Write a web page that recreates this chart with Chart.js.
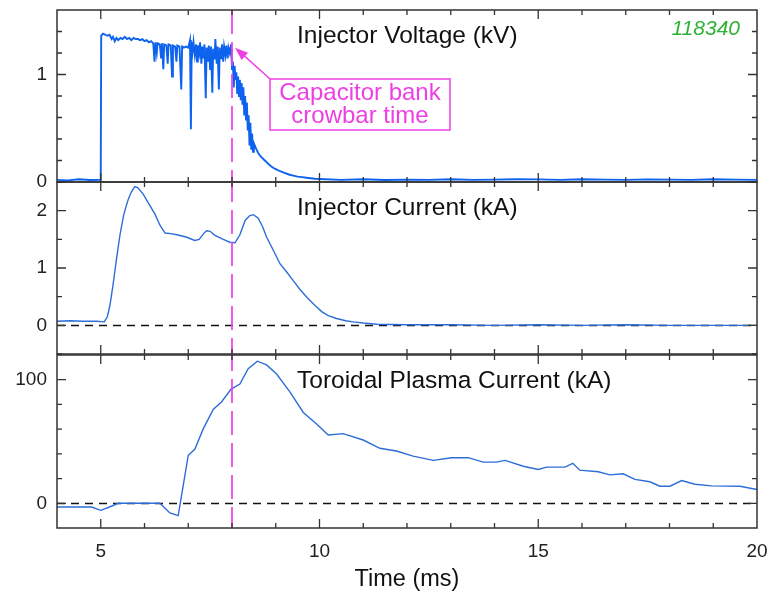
<!DOCTYPE html>
<html><head><meta charset="utf-8">
<script src="https://cdn.jsdelivr.net/npm/chart.js@4.4.0/dist/chart.umd.min.js"></script>
<style>
html,body{margin:0;padding:0;background:#fff;width:771px;height:596px;overflow:hidden}
canvas{position:absolute;left:0}
</style></head><body>
<canvas id="c1" width="771" height="190" style="top:0"></canvas>
<canvas id="c2" width="771" height="190" style="top:172px"></canvas>
<canvas id="c3" width="771" height="251" style="top:345px"></canvas>
<script>
// ---------- data (time in ms) ----------
const voltage = [ // [t, kV]
[4.0,0.02],[4.25,0.015],[4.5,0.025],[4.75,0.018],[4.98,0.02],[5.0,0.02],[5.01,1.36],[5.05,1.38],[5.10,1.37],[5.15,1.36],
[5.20,1.37],[5.25,1.33],[5.28,1.35],[5.32,1.31],[5.36,1.34],[5.40,1.32],[5.45,1.34],[5.50,1.33],[5.55,1.35],[5.60,1.33],
[5.65,1.34],[5.70,1.32],[5.75,1.34],[5.80,1.33],[5.85,1.33],[5.90,1.32],[5.95,1.33],[6.00,1.31],[6.05,1.32],[6.10,1.30],
[6.15,1.31],[6.20,1.29],[6.23,1.12],[6.25,1.30],[6.28,1.20],[6.30,1.29],[6.35,1.28],[6.38,1.15],[6.40,1.29],[6.43,1.05],
[6.45,1.28],[6.50,1.27],[6.53,1.10],[6.55,1.28],[6.60,1.27],[6.63,0.98],[6.65,1.27],[6.70,1.26],[6.73,1.12],[6.75,1.27],
[6.80,1.26],[6.84,0.86],[6.86,1.26],[6.90,1.25],[6.95,1.26],[7.00,1.25],[7.04,1.32],[7.06,0.49],[7.08,1.30],[7.10,1.22],
[7.12,1.30],[7.15,1.18],[7.18,1.28],[7.20,1.12],[7.22,1.27],[7.25,1.20],[7.27,1.30],[7.30,1.10],[7.32,1.26],[7.35,1.15],
[7.37,1.28],[7.40,0.78],[7.42,1.25],[7.45,1.12],[7.47,1.27],[7.50,1.05],[7.52,1.26],[7.55,0.83],[7.57,1.24],[7.60,1.14],
[7.62,1.33],[7.65,1.10],[7.67,1.26],[7.70,0.86],[7.72,1.25],[7.75,1.15],[7.77,1.28],[7.80,1.12],[7.82,1.26],[7.85,1.18],
[7.87,1.27],[7.90,1.15],[7.92,1.25],[7.95,1.20],[7.98,1.28],[8.00,1.05],[8.02,1.12],[8.04,0.88],[8.06,1.08],[8.08,0.95],
[8.10,1.02],[8.12,0.82],[8.14,0.98],[8.16,0.80],[8.18,0.95],[8.20,0.76],[8.22,0.92],[8.24,0.72],[8.26,0.88],[8.28,0.62],
[8.30,0.80],[8.32,0.58],[8.34,0.74],[8.36,0.48],[8.38,0.62],[8.40,0.34],[8.42,0.55],[8.44,0.30],[8.46,0.45],[8.48,0.28],
[8.50,0.36],[8.55,0.31],[8.60,0.27],[8.65,0.24],[8.70,0.22],[8.75,0.20],[8.80,0.18],[8.85,0.16],[8.90,0.145],[8.95,0.13],
[9.00,0.12],[9.10,0.10],[9.20,0.085],[9.30,0.07],[9.40,0.06],[9.50,0.05],[9.60,0.045],[9.70,0.04],[9.80,0.035],[9.90,0.03],
[10.0,0.028],[10.5,0.02],[11.0,0.025],[11.5,0.018],[12.0,0.022],[12.5,0.02],[13.0,0.025],[13.5,0.02],[14.0,0.022],[14.5,0.026],
[15.0,0.024],[15.5,0.02],[16.0,0.025],[16.5,0.022],[17.0,0.02],[17.5,0.024],[18.0,0.022],[18.5,0.02],[19.0,0.025],[19.5,0.022],[20.0,0.02]
];
const currentTime = [4.0,4.3,4.6,4.9,5.08,5.15,5.21,5.28,5.36,5.44,5.52,5.58,5.63,5.70,5.78,5.85,5.97,6.1,6.24,6.35,6.47,6.6,6.74,6.95,7.15,7.25,7.35,7.42,7.5,7.61,7.8,7.95,8.07,8.18,8.30,8.4,8.49,8.60,8.70,8.79,8.95,9.10,9.25,9.40,9.55,9.71,9.88,10.05,10.2,10.39,10.6,10.77,11.0,11.31,12,13,14,15,16,17,18,19,20];
const currentKA   = [0.07,0.08,0.07,0.07,0.06,0.15,0.35,0.7,1.16,1.58,1.91,2.08,2.2,2.33,2.42,2.40,2.29,2.12,1.94,1.75,1.61,1.60,1.58,1.54,1.48,1.50,1.60,1.65,1.64,1.57,1.50,1.45,1.44,1.58,1.83,1.91,1.93,1.87,1.72,1.54,1.30,1.07,0.93,0.78,0.63,0.49,0.36,0.24,0.17,0.12,0.08,0.06,0.04,0.02,0.01,0.01,0.0,0.01,0.0,0.01,0.0,0.0,0.0];
const plasmaTime = [4.0,4.79,5.0,5.2,5.4,6.35,6.58,6.77,7.0,7.15,7.34,7.57,7.76,7.98,8.18,8.37,8.58,8.79,9.02,9.33,9.63,9.94,10.2,10.54,11.0,11.38,11.76,12.14,12.6,13.02,13.4,13.74,14.05,14.24,14.66,15.0,15.19,15.61,15.79,15.95,16.37,16.64,16.94,17.21,17.55,17.78,18.01,18.28,18.58,18.96,19.61,20.0];
const plasmaKA   = [-3,-3,-5.7,-3,0,0,-7.8,-10,38.8,43.7,60,76,82,92.4,96.5,109,115,112,104.6,89.7,73.5,64,55.3,56.4,51.2,44.5,42.3,38.2,34.7,36.9,36.9,33.3,33.3,34.7,30,27.4,29.3,29.3,32.3,26.8,25.5,23,23.9,19.3,17.4,13.8,13.8,18.4,15.4,14.1,13.8,11.1];

const timeRange = [4, 20];
const xLabelTicks = [5, 10, 15, 20];
const xMajorTicks = [5, 10, 15];
const xMinorTicks = [6,7,8,9,11,12,13,14,16,17,18,19];
const crowbarTime = 8;
const shotNumber = '118340';

const panels = [
  {id:'c1', title:'Injector Voltage (kV)', range:[0,1.6], labels:[0,1], major:[0,1], minor:[0.2,0.4,0.6,0.8,1.2,1.4], zero:false},
  {id:'c2', title:'Injector Current (kA)', range:[-0.5,2.5], labels:[0,1,2], major:[0,1,2], minor:[-0.5,0.5,1.5,2.5], zero:true},
  {id:'c3', title:'Toroidal Plasma Current (kA)', range:[-20,120], labels:[0,100], major:[0,100], minor:[20,40,60,80], zero:true}
];

// ---------- styling ----------
const FONT = "'Liberation Sans', Arial, Helvetica, sans-serif";
const MAGENTA = '#ee3fe6';
const FRAME = '#333333';

function panelPlugin(p, idx) {
  return {
    id: 'panel' + idx,
    beforeDatasetsDraw(chart) {
      if (!p.zero) return;
      const {ctx, chartArea: a, scales: {y}} = chart;
      const py = Math.round(y.getPixelForValue(0)) + 0.5;
      ctx.save();
      ctx.setLineDash([8, 6]);
      ctx.strokeStyle = '#111';
      ctx.lineWidth = 1.3;
      ctx.beginPath(); ctx.moveTo(a.left, py); ctx.lineTo(a.right, py); ctx.stroke();
      ctx.restore();
    },
    afterDatasetsDraw(chart) {
      const {ctx, chartArea: a, scales: {x, y}} = chart;
      ctx.save();
      // crowbar dashed line
      const cx = x.getPixelForValue(crowbarTime);
      ctx.setLineDash([24, 8]);
      ctx.lineDashOffset = idx * 4;
      ctx.strokeStyle = MAGENTA;
      ctx.lineWidth = 1.7;
      ctx.beginPath(); ctx.moveTo(cx, a.top); ctx.lineTo(cx, a.bottom); ctx.stroke();
      ctx.setLineDash([]);
      // frame
      ctx.strokeStyle = FRAME;
      ctx.lineWidth = 1.5;
      ctx.strokeRect(a.left, a.top, a.right - a.left, a.bottom - a.top);
      // ticks
      ctx.lineWidth = 1.3;
      ctx.beginPath();
      const xt = (v, len) => { const px = x.getPixelForValue(v);
        ctx.moveTo(px, a.top); ctx.lineTo(px, a.top + len);
        ctx.moveTo(px, a.bottom); ctx.lineTo(px, a.bottom - len); };
      const yt = (v, len) => { const py = y.getPixelForValue(v);
        ctx.moveTo(a.left, py); ctx.lineTo(a.left + len, py);
        ctx.moveTo(a.right, py); ctx.lineTo(a.right - len, py); };
      xMajorTicks.forEach(v => xt(v, 9));
      xMinorTicks.forEach(v => xt(v, 5));
      p.major.forEach(v => yt(v, 9));
      p.minor.forEach(v => yt(v, 5));
      ctx.stroke();
      // panel title
      ctx.fillStyle = '#111';
      ctx.font = '24.5px ' + FONT;
      ctx.textAlign = 'left';
      ctx.textBaseline = 'alphabetic';
      ctx.fillText(p.title, 297, a.top + 33);
      if (idx === 0) {
        ctx.fillStyle = '#2db236';
        ctx.font = 'italic 21px ' + FONT;
        ctx.textAlign = 'right';
        ctx.fillText(shotNumber, 740, a.top + 25);
        // annotation box
        const bx = 270, by = 79, bw = 180, bh = 51;
        ctx.strokeStyle = MAGENTA;
        ctx.lineWidth = 1.5;
        ctx.strokeRect(bx, by, bw, bh);
        ctx.fillStyle = MAGENTA;
        ctx.font = '24px ' + FONT;
        ctx.textAlign = 'center';
        ctx.fillText('Capacitor bank', bx + bw / 2, 100);
        ctx.fillText('crowbar time', bx + bw / 2, 123);
        // arrow from box corner to crowbar point
        const tx = cx + 3, ty = y.getPixelForValue(1.25);
        ctx.beginPath(); ctx.moveTo(bx, by); ctx.lineTo(tx + 8, ty + 7); ctx.stroke();
        const ang = Math.atan2(by - ty, bx - tx);
        ctx.beginPath();
        ctx.moveTo(tx, ty);
        ctx.lineTo(tx + 14 * Math.cos(ang - 0.35), ty + 14 * Math.sin(ang - 0.35));
        ctx.lineTo(tx + 14 * Math.cos(ang + 0.35), ty + 14 * Math.sin(ang + 0.35));
        ctx.closePath(); ctx.fill();
      }
      ctx.restore();
    }
  };
}

const seriesFor = [
  { data: voltage.map(d => ({x: d[0], y: d[1]})), color: '#0d62ee', width: 1.9 },
  { data: currentTime.map((t, i) => ({x: t, y: currentKA[i]})), color: '#2d6dd8', width: 1.4 },
  { data: plasmaTime.map((t, i) => ({x: t, y: plasmaKA[i]})), color: '#2d6dd8', width: 1.4 }
];

panels.forEach((p, idx) => {
  const last = idx === 2;
  new Chart(document.getElementById(p.id), {
    type: 'line',
    data: { datasets: [{
      data: seriesFor[idx].data,
      borderColor: seriesFor[idx].color,
      borderWidth: seriesFor[idx].width,
      pointRadius: 0, tension: 0, fill: false
    }]},
    options: {
      responsive: false, animation: false, events: [],
      layout: { padding: { top: 10, right: 14, left: 0, bottom: last ? 0 : 8 } },
      plugins: { legend: {display: false}, tooltip: {enabled: false}, title: {display: false} },
      scales: {
        x: {
          type: 'linear', min: timeRange[0], max: timeRange[1],
          display: last,
          afterBuildTicks: s => { s.ticks = xLabelTicks.map(v => ({value: v})); },
          afterFit: s => { if (last) s.height = 68; s.paddingLeft = 0; s.paddingRight = 0; },
          grid: { display: false, drawTicks: false },
          border: { display: false },
          ticks: { color: '#222', font: { family: FONT, size: 19 }, padding: 12, maxRotation: 0 },
          title: { display: true, text: 'Time (ms)', color: '#111', font: { family: FONT, size: 23.5 }, padding: { top: 0, bottom: 2 } }
        },
        y: {
          type: 'linear', min: p.range[0], max: p.range[1],
          afterBuildTicks: s => { s.ticks = p.labels.map(v => ({value: v})); },
          afterFit: s => { s.width = 57; s.paddingTop = 0; s.paddingBottom = 0; },
          grid: { display: false, drawTicks: false },
          border: { display: false },
          ticks: { color: '#222', font: { family: FONT, size: 19 }, padding: 10 }
        }
      }
    },
    plugins: [panelPlugin(p, idx)]
  });
});
</script>
</body></html>
